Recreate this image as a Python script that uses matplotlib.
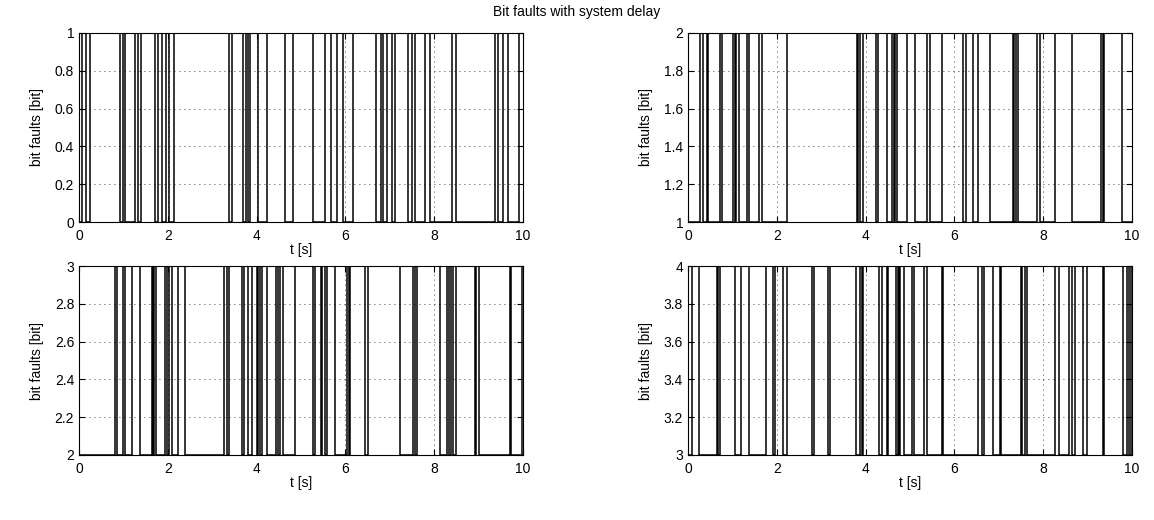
import numpy as np
import matplotlib
matplotlib.use("Agg")
from matplotlib import pyplot as plt

# toggle times [s] of each bit fault signal
edges_1 = [0.07, 0.16, 0.24, 0.93, 0.98, 1.04, 1.27, 1.34, 1.40, 1.72, 1.78, 1.88, 1.96,
           2.02, 2.15, 3.37, 3.45, 3.70, 3.75, 3.80, 3.85, 4.04, 4.23, 4.64, 4.83, 5.28,
           5.54, 5.67, 5.80, 5.95, 6.18, 6.70, 6.80, 6.85, 6.93, 7.04, 7.11, 7.41, 7.49,
           7.56, 7.79, 7.90, 8.39, 8.50, 9.36, 9.43, 9.55, 9.66, 9.92]
edges_2 = [0.27, 0.33, 0.42, 0.46, 0.72, 0.76, 1.01, 1.05, 1.09, 1.14, 1.32, 1.38, 1.60,
           1.66, 2.22, 3.81, 3.84, 3.88, 3.94, 4.24, 4.29, 4.49, 4.59, 4.63, 4.66, 4.70,
           4.93, 5.11, 5.38, 5.45, 5.71, 6.20, 6.26, 6.43, 6.54, 6.81, 7.31, 7.34, 7.38,
           7.44, 7.86, 7.93, 8.27, 8.64, 9.31, 9.34, 9.38, 9.77]
edges_3 = [0.81, 0.85, 1.00, 1.04, 1.20, 1.37, 1.64, 1.67, 1.70, 1.73, 1.94, 1.98, 2.03,
           2.09, 2.24, 2.38, 3.27, 3.34, 3.37, 3.67, 3.71, 3.81, 3.90, 4.00, 4.04, 4.08,
           4.12, 4.23, 4.44, 4.48, 4.52, 4.59, 4.86, 5.28, 5.32, 5.44, 5.48, 5.55, 5.59,
           5.76, 6.04, 6.08, 6.11, 6.45, 6.52, 7.24, 7.52, 7.57, 7.62, 8.14, 8.29, 8.33,
           8.38, 8.43, 8.48, 8.91, 8.95, 9.00, 9.70, 9.74, 9.97]
edges_4 = [0.08, 0.25, 0.65, 0.68, 0.72, 1.06, 1.20, 1.38, 1.76, 1.91, 1.96, 2.15, 2.22,
           2.79, 2.83, 3.16, 3.20, 3.79, 3.88, 3.92, 3.95, 4.31, 4.37, 4.48, 4.51, 4.69,
           4.72, 4.75, 4.78, 4.87, 5.05, 5.10, 5.31, 5.38, 5.71, 5.75, 6.54, 6.62, 6.66,
           6.86, 7.02, 7.06, 7.49, 7.53, 7.58, 7.63, 8.27, 8.35, 8.59, 8.65, 8.72, 8.89,
           8.98, 9.35, 9.38, 9.80, 9.88, 9.93, 9.98]

signals = [(edges_1, 0, 1), (edges_2, 1, 2), (edges_3, 2, 3), (edges_4, 3, 4)]
yticks = [np.round(np.arange(lo, hi + 0.01, 0.2), 1) for _, lo, hi in signals]
xticks = [0, 2, 4, 6, 8, 10]

plt.rcParams['font.family'] = ['Liberation Sans', 'DejaVu Sans']
plt.rcParams['font.size'] = 10

fig = plt.figure(figsize=(11.54, 5.20), dpi=100)
W, H = 1154.0, 520.0
# axes rectangles in pixels: left, top, right, bottom
boxes = [(79, 33, 523, 222), (688, 33, 1132, 222), (79, 266, 523, 455), (688, 266, 1132, 455)]

def step_xy(edges, lo, hi):
    x = [0.0]
    y = [lo]
    level = lo
    for t in edges:
        x += [t, t]
        y += [level, hi if level == lo else lo]
        level = y[-1]
    x.append(10.0)
    y.append(level)
    return np.array(x), np.array(y)

for i, (edges, lo, hi) in enumerate(signals):
    l, t, r, b = boxes[i]
    ax = fig.add_axes([l / W, 1 - b / H, (r - l) / W, (b - t) / H])
    x, y = step_xy(edges, lo, hi)
    ax.plot(x, y, color='black', lw=1.1)
    ax.set_xlim(0, 10)
    ax.set_ylim(lo, hi)
    ax.set_xticks(xticks)
    ax.set_yticks(yticks[i])
    ax.set_yticklabels(['%g' % v for v in yticks[i]])
    ax.grid(True, color='black', ls=(0, (1, 5)), lw=0.6)
    ax.tick_params(direction='in', top=True, right=True, length=4, labelsize=10)
    ax.tick_params(axis='x', pad=5)
    ax.set_xlabel('t [s]', labelpad=0)
    ax.set_ylabel('bit faults [bit]', labelpad=8)
    for s in ax.spines.values():
        s.set_linewidth(0.8)

fig.text(0.5, 1 - 12 / H, 'Bit faults with system delay', ha='center', va='center', fontsize=10)

fig.savefig('out.png', dpi=100)
